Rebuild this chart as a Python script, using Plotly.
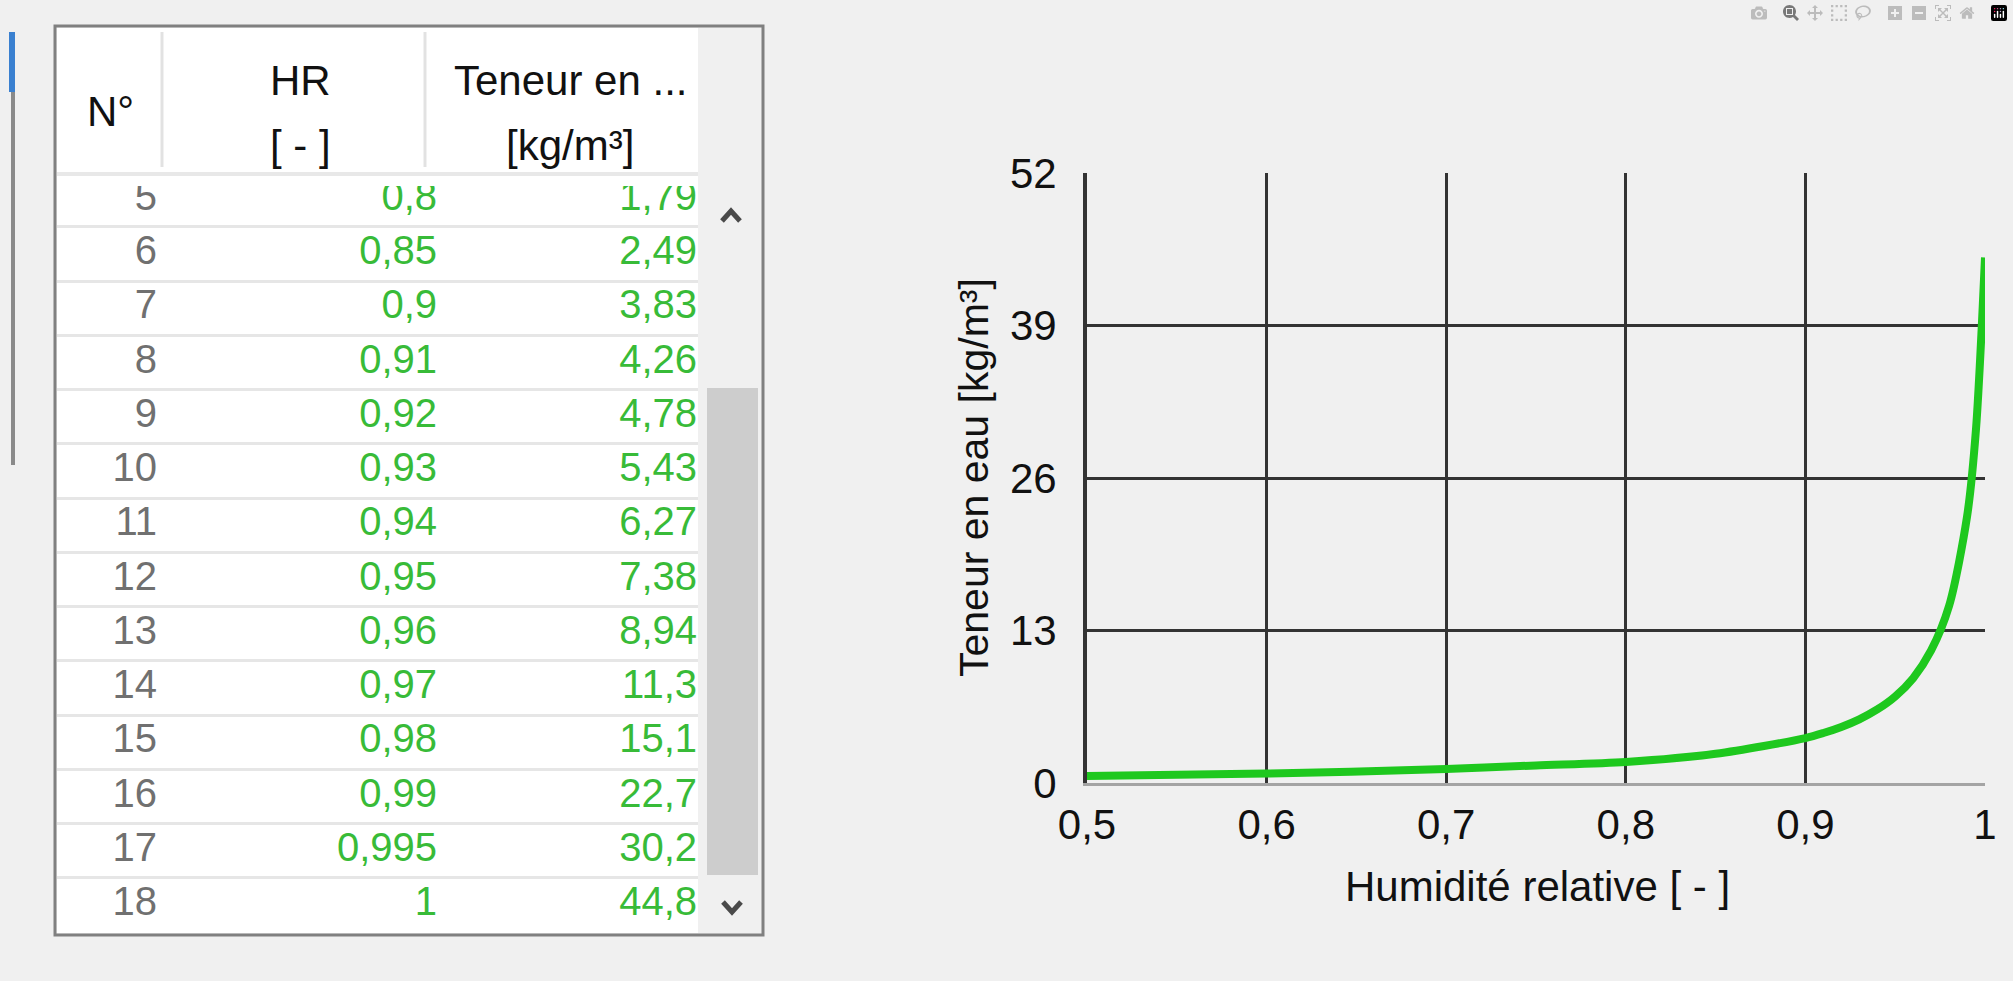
import plotly.graph_objects as go

W, H = 2013, 981

# grid rows visible on screen (row 5 is partly hidden under the header)
row_no = [5, 6, 7, 8, 9, 10, 11, 12, 13, 14, 15, 16, 17, 18]
hr = [0.8, 0.85, 0.9, 0.91, 0.92, 0.93, 0.94, 0.95, 0.96, 0.97, 0.98, 0.99, 0.995, 1]
teneur = [1.79, 2.49, 3.83, 4.26, 4.78, 5.43, 6.27, 7.38, 8.94, 11.3, 15.1, 22.7, 30.2, 44.8]

# rows 1-4 are scrolled out of the grid
hr_low = [0.5, 0.6, 0.7, 0.75]
teneur_low = [0.6, 0.8, 1.2, 1.5]

header_lines = [["N°"], ["HR", "[ - ]"], ["Teneur en ...", "[kg/m³]"]]

x_ticks = [0.5, 0.6, 0.7, 0.8, 0.9, 1]
x_tick_labels = ["0,5", "0,6", "0,7", "0,8", "0,9", "1"]
y_ticks = [0, 13, 26, 39, 52]

FONT = "Liberation Sans, Arial, sans-serif"
GREEN = "#1ec81e"
TXT_GREEN = "#38bb38"


def fmt(v):
    return f"{v:g}".replace(".", ",")


def px(x):
    return x / W


def py(y):
    return 1 - y / H


# table layout (pixels)
COL_RIGHT = [157, 437, 697]
HEAD_X = [110, 300, 570]
HEAD_Y = [[112], [81, 145], [81, 145]]
ROW6_Y, ROW_PITCH = 254, 54.25
BODY_TOP, BODY_BOT = 186, 933


def row_at(ypx):
    return 6 + (ypx - ROW6_Y) / ROW_PITCH


fig = go.Figure()

# ---- table (as text on a hidden axis pair) ----
fig.add_trace(go.Scatter(
    x=[COL_RIGHT[0]] * len(row_no), y=row_no, text=[str(n) for n in row_no],
    mode="text", textposition="middle left", xaxis="x2", yaxis="y2",
    textfont=dict(family=FONT, size=40, color="#707070"), hoverinfo="skip",
))
fig.add_trace(go.Scatter(
    x=[COL_RIGHT[1]] * len(hr), y=row_no, text=[fmt(v) for v in hr],
    mode="text", textposition="middle left", xaxis="x2", yaxis="y2",
    textfont=dict(family=FONT, size=40, color=TXT_GREEN), hoverinfo="skip",
))
fig.add_trace(go.Scatter(
    x=[COL_RIGHT[2]] * len(teneur), y=row_no, text=[fmt(v) for v in teneur],
    mode="text", textposition="middle left", xaxis="x2", yaxis="y2",
    textfont=dict(family=FONT, size=40, color=TXT_GREEN), hoverinfo="skip",
))

# ---- chart ----
fig.add_trace(go.Scatter(
    x=hr_low + hr, y=teneur_low + teneur, mode="lines",
    line=dict(color=GREEN, width=8, shape="spline", smoothing=0.8),
    showlegend=False, hoverinfo="skip",
))

fig.update_layout(
    width=W, height=H,
    margin=dict(l=0, r=0, t=0, b=0, autoexpand=False),
    paper_bgcolor="#f0f0f0",
    plot_bgcolor="rgba(0,0,0,0)",
    showlegend=False,
    font=dict(family=FONT, color="#111111"),
    xaxis=dict(
        domain=[px(1087), px(1985)], range=[0.5, 1], automargin=False,
        tickvals=x_ticks, ticktext=x_tick_labels,
        showgrid=True, gridcolor="#333333", gridwidth=3,
        showline=True, linecolor="#a4a4a4", linewidth=3,
        zeroline=False, ticks="", ticklabelstandoff=3,
        tickfont=dict(size=42, color="#111111"),
    ),
    yaxis=dict(
        domain=[py(783), py(173)], range=[0, 52], automargin=False,
        tickvals=y_ticks,
        showgrid=True, gridcolor="#333333", gridwidth=3,
        showline=True, linecolor="#333333", linewidth=4,
        zeroline=False, ticks="", ticklabelstandoff=18,
        tickfont=dict(size=42, color="#111111"),
    ),
    yaxis3=dict(
        overlaying="y", side="right", range=[0, 52], automargin=False,
        showline=True, linecolor="#a4a4a4", linewidth=3,
        showgrid=False, zeroline=False, showticklabels=False, ticks="",
    ),
    xaxis2=dict(
        domain=[px(57), px(698)], range=[57, 698], anchor="y2", automargin=False,
        visible=False, fixedrange=True,
    ),
    yaxis2=dict(
        domain=[py(BODY_BOT), py(BODY_TOP)], automargin=False,
        range=[row_at(BODY_BOT), row_at(BODY_TOP)], anchor="x2",
        tickvals=[r + 0.5 for r in range(4, 19)],
        showgrid=True, gridcolor="#e6e6e6", gridwidth=3,
        showticklabels=False, zeroline=False, ticks="", fixedrange=True,
    ),
)

shapes = [
    # white grid background
    dict(type="rect", xref="paper", yref="paper", x0=px(57), x1=px(698), y0=py(933), y1=py(28),
         fillcolor="white", line_width=0, layer="below"),
    # header separators
    dict(type="line", xref="paper", yref="paper", x0=px(162), x1=px(162), y0=py(167), y1=py(32),
         line=dict(color="#e2e2e2", width=3), layer="below"),
    dict(type="line", xref="paper", yref="paper", x0=px(425), x1=px(425), y0=py(167), y1=py(32),
         line=dict(color="#e2e2e2", width=3), layer="below"),
    dict(type="line", xref="paper", yref="paper", x0=px(57), x1=px(698), y0=py(174), y1=py(174),
         line=dict(color="#e8e8e8", width=4), layer="below"),
    # scrollbar thumb
    dict(type="rect", xref="paper", yref="paper", x0=px(707), x1=px(758), y0=py(875), y1=py(388),
         fillcolor="#cdcdcd", line_width=0, layer="below"),
    # grid border
    dict(type="rect", xref="paper", yref="paper", x0=px(55), x1=px(763), y0=py(935), y1=py(26),
         line=dict(color="#808080", width=3), layer="above"),
    # window edge on the far left
    dict(type="rect", xref="paper", yref="paper", x0=px(9), x1=px(15), y0=py(92), y1=py(32),
         fillcolor="#3a80d0", line_width=0),
    dict(type="rect", xref="paper", yref="paper", x0=px(11), x1=px(15), y0=py(465), y1=py(92),
         fillcolor="#8a8a8a", line_width=0),
]

# scroll arrows
for cx, cy, d in [(731, 216, -1), (732, 907, 1)]:
    path = (f"M {px(cx - 9)} {py(cy - 5 * d)} L {px(cx)} {py(cy + 5 * d)} "
            f"L {px(cx + 9)} {py(cy - 5 * d)}")
    shapes.append(dict(type="path", xref="paper", yref="paper", path=path,
                       line=dict(color="#4a4a4a", width=5)))

fig.update_layout(shapes=shapes)

annotations = []
for hx, lines, ys in zip(HEAD_X, header_lines, HEAD_Y):
    for txt, yy in zip(lines, ys):
        annotations.append(dict(
            text=txt, x=px(hx), y=py(yy), xref="paper", yref="paper",
            showarrow=False, xanchor="center", yanchor="middle",
            font=dict(family=FONT, size=42, color="#111111"),
        ))

annotations.append(dict(
    text="Humidité relative [ - ]", x=px(1537), y=py(886), xref="paper", yref="paper",
    showarrow=False, xanchor="center", yanchor="middle",
    font=dict(family=FONT, size=42, color="#111111"),
))
annotations.append(dict(
    text="Teneur en eau [kg/m³]", x=px(974), y=py(478), xref="paper", yref="paper",
    showarrow=False, xanchor="center", yanchor="middle", textangle=-90,
    font=dict(family=FONT, size=41, color="#111111"),
))
fig.update_layout(annotations=annotations)

fig.write_html("out.html", post_script="document.body.style.margin='0';")
